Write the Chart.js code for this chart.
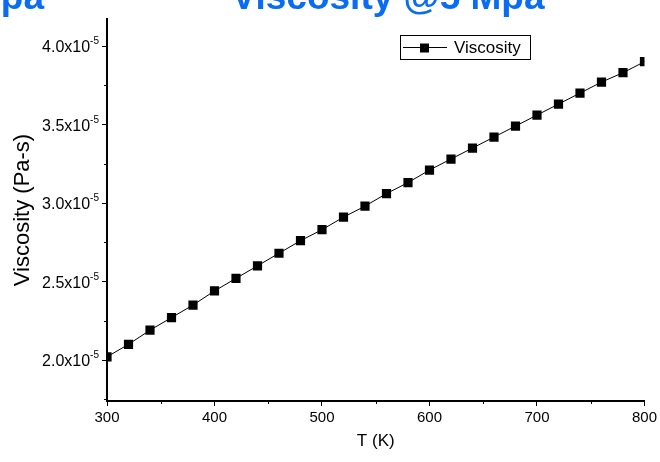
<!DOCTYPE html>
<html>
<head>
<meta charset="utf-8">
<script src="https://cdn.jsdelivr.net/npm/chart.js@4.4.0/dist/chart.umd.min.js"></script>
<style>
  body { margin: 0; background: #fff; }
  #chart { display: block; }
</style>
</head>
<body>
<canvas id="chart" width="660" height="462"></canvas>
<script>
// data (T in K, viscosity in 1e-5 Pa-s)
const temperatures = [300, 320, 340, 360, 380, 400, 420, 440, 460, 480, 500, 520, 540,
                      560, 580, 600, 620, 640, 660, 680, 700, 720, 740, 760, 780, 800];
const viscosity = [2.02, 2.10, 2.19, 2.27, 2.35, 2.44, 2.52, 2.60, 2.68, 2.76, 2.83, 2.91, 2.98,
                   3.06, 3.13, 3.21, 3.28, 3.35, 3.42, 3.49, 3.56, 3.63, 3.70, 3.77, 3.83, 3.90];
const xMinorTicks = [350, 450, 550, 650, 750];
const yMinorTicks = [1.75, 2.25, 2.75, 3.25, 3.75];
const seriesLabel = 'Viscosity';
const titleText = 'Viscosity @5 Mpa';
const FONT = 'Arial, "Liberation Sans", sans-serif';

// title cut at top + y labels with superscript + minor ticks + boxed legend
const extras = {
    id: 'extras',
    afterDraw(chart) {
        const ctx = chart.ctx;
        const xs = chart.scales.x;
        const ys = chart.scales.y;
        ctx.save();

        // titles (partially off canvas)
        ctx.fillStyle = '#0a6cf2';
        ctx.font = 'bold 37px ' + FONT;
        ctx.textBaseline = 'alphabetic';
        ctx.textAlign = 'center';
        ctx.fillText(titleText, 388, 9);
        ctx.textAlign = 'right';
        ctx.fillText('Mpa', 44, 9);

        // y tick labels: 4.0x10 with superscript -5
        ctx.fillStyle = '#000';
        ys.ticks.forEach(t => {
            const py = ys.getPixelForValue(t.value);
            ctx.font = '10px ' + FONT;
            ctx.textAlign = 'right';
            ctx.textBaseline = 'alphabetic';
            const supW = ctx.measureText('-5').width;
            ctx.fillText('-5', ys.right - 8, py - 2);
            ctx.font = '16px ' + FONT;
            ctx.fillText(t.value.toFixed(1) + 'x10', ys.right - 8 - supW, py + 6);
        });

        // minor ticks
        ctx.strokeStyle = '#000';
        ctx.lineWidth = 1;
        ctx.beginPath();
        xMinorTicks.forEach(v => {
            const px = Math.round(xs.getPixelForValue(v)) + 0.5;
            ctx.moveTo(px, xs.top);
            ctx.lineTo(px, xs.top + 3);
        });
        yMinorTicks.forEach(v => {
            const py = Math.round(ys.getPixelForValue(v)) + 0.5;
            ctx.moveTo(ys.right, py);
            ctx.lineTo(ys.right - 3, py);
        });
        ctx.stroke();

        // legend box
        const bx = 400, by = 35, bw = 130, bh = 24;
        ctx.strokeRect(bx + 0.5, by + 0.5, bw, bh);
        const cy = by + bh / 2 + 0.5;
        ctx.beginPath();
        ctx.moveTo(bx + 3, cy);
        ctx.lineTo(bx + 47, cy);
        ctx.stroke();
        ctx.fillRect(bx + 20, cy - 4, 9, 9);
        ctx.font = '17px ' + FONT;
        ctx.textAlign = 'left';
        ctx.textBaseline = 'middle';
        ctx.fillText(seriesLabel, bx + 54, cy + 1);
        ctx.restore();
    }
};

const chart = new Chart(document.getElementById('chart'), {
    type: 'line',
    data: {
        labels: temperatures,
        datasets: [{
            label: seriesLabel,
            data: temperatures.map((t, i) => ({ x: t, y: viscosity[i] })),
            borderColor: '#000',
            borderWidth: 1,
            backgroundColor: '#000',
            pointStyle: 'rect',
            pointRadius: 6.5,
            pointBorderWidth: 0,
            tension: 0
        }]
    },
    options: {
        responsive: false,
        animation: false,
        devicePixelRatio: 1,
        layout: { padding: { left: 0, right: 13, top: 19, bottom: 0 } },
        plugins: {
            legend: { display: false },
            tooltip: { enabled: false }
        },
        scales: {
            x: {
                type: 'linear',
                min: 300,
                max: 800,
                ticks: {
                    stepSize: 100,
                    color: '#000',
                    padding: 3,
                    font: { family: FONT, size: 15 }
                },
                grid: { drawOnChartArea: false, tickLength: 5, tickColor: '#000', tickWidth: 1 },
                border: { color: '#000', width: 2 },
                title: {
                    display: true,
                    text: 'T (K)',
                    color: '#000',
                    padding: { bottom: 10 },
                    font: { family: FONT, size: 17 }
                },
                afterFit(scale) { scale.height = 61; }
            },
            y: {
                min: 1.739,
                max: 4.172,
                ticks: {
                    stepSize: 0.5,
                    includeBounds: false,
                    color: '#000',
                    padding: 2,
                    font: { family: FONT, size: 15 },
                    callback: () => ''
                },
                grid: { drawOnChartArea: false, tickLength: 5, tickColor: '#000', tickWidth: 1 },
                border: { color: '#000', width: 2 },
                title: {
                    display: true,
                    text: 'Viscosity (Pa-s)',
                    color: '#000',
                    padding: { top: 10, bottom: 2 },
                    font: { family: FONT, size: 22 }
                },
                afterFit(scale) { scale.width = 107; }
            }
        }
    },
    plugins: [extras]
});
</script>
</body>
</html>
